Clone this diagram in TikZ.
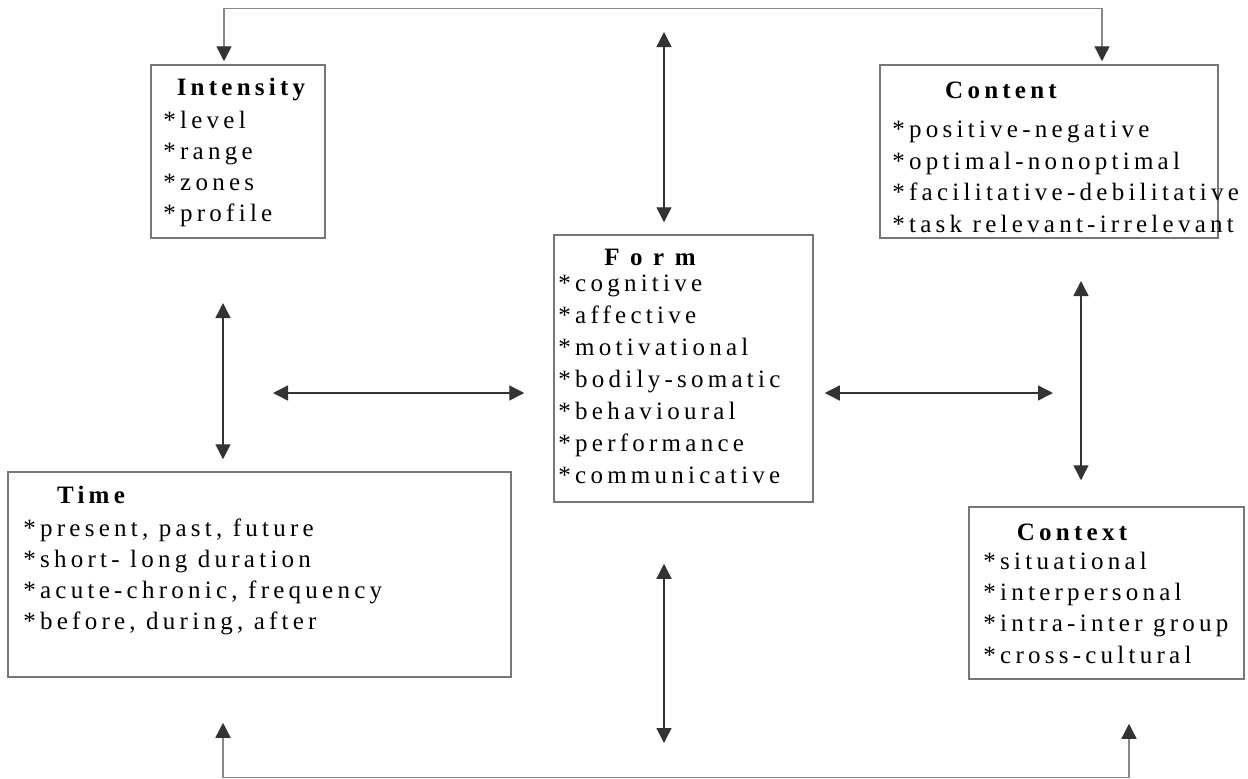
\documentclass[tikz,border=0pt]{standalone}
\usepackage{fontspec}
\setmainfont{Liberation Serif}[LetterSpace=17]
\usetikzlibrary{arrows.meta,fit}

\definecolor{boxgray}{HTML}{777777}
\definecolor{inkgray}{HTML}{333333}
\definecolor{wiregray}{HTML}{888888}

\tikzset{
  dimbox/.style={draw=boxgray, line width=0.75pt, inner sep=0pt},
  head/.style={font=\fontsize{12.5}{15}\selectfont\bfseries, inner sep=0pt},
  item/.style={anchor=base west, inner sep=0pt, font=\fontsize{12.5}{15}\selectfont},
  link/.style={draw=inkgray, line width=0.7pt},
  twoway/.style={link, {Triangle[width=7.5pt,length=7.5pt]}-{Triangle[width=7.5pt,length=7.5pt]}},
  loopwire/.style={draw=wiregray, line width=0.7pt,
    {Triangle[width=7.5pt,length=7.5pt,color=inkgray]}-{Triangle[width=7.5pt,length=7.5pt,color=inkgray]}},
}

\begin{document}
\begin{tikzpicture}[x=0.5pt, y=-0.5pt]
\useasboundingbox (0,0) rectangle (1248,778);

% the five dimensions
\node[dimbox, fit={(151,65) (325,238)}] (intensity) {};
\node[dimbox, fit={(880,65) (1218,238)}] (content) {};
\node[dimbox, fit={(554,235) (813,502)}] (form) {};
\node[dimbox, fit={(8,472) (511,677)}] (time) {};
\node[dimbox, fit={(969,507) (1244,679)}] (context) {};

\node[head] (intensityHead) at (241,90) {Intensity};
\foreach \t [count=\i] in {level,range,zones,profile}
  \node[item] (intensity-\i) at (163,97+31*\i) {*\t};

\node[head] (contentHead) at (1001,90) {Content};
\foreach \t [count=\i] in {positive-negative,optimal-nonoptimal,facilitative-debilitative,task relevant-irrelevant}
  \node[item] (content-\i) at (892,106+31.5*\i) {*\t};

\node[head] (formHead) at (650,257) {F o r m};
\foreach \t [count=\i] in {cognitive,affective,motivational,bodily-somatic,behavioural,performance,communicative}
  \node[item] (form-\i) at (558,259+32*\i) {*\t};

\node[head] (timeHead) at (91,495) {Time};
\foreach \t [count=\i] in {{present, past, future},{short- long duration},{acute-chronic, frequency},{before, during, after}}
  \node[item] (time-\i) at (23,505+31*\i) {*\t};

\node[head] (contextHead) at (1072,532) {Context};
\foreach \t [count=\i] in {situational,interpersonal,intra-inter group,cross-cultural}
  \node[item] (context-\i) at (983,538+31.3*\i) {*\t};

% free ends of the double arrows
\coordinate (formTop) at (664,32);
\coordinate (intensityLow) at (223,303);
\coordinate (leftMid) at (273,393);
\coordinate (rightMid) at (1053,393);
\coordinate (contentLow) at (1081,281);
\coordinate (formLow) at (664,743);

\draw[twoway] (formTop) -- ([xshift=-9.75pt,yshift=6pt]form.north);
\draw[twoway] (intensityLow) -- ([xshift=-18.25pt,yshift=6pt]time.north);
\draw[twoway] (leftMid) -- ([xshift=-14.5pt,yshift=-12.25pt]form.west);
\draw[twoway] ([xshift=5.5pt,yshift=-12.25pt]form.east) -- (rightMid);
\draw[twoway] (contentLow) -- ([xshift=-12.75pt,yshift=13pt]context.north);
\draw[twoway] ([xshift=-9.75pt,yshift=-30.5pt]form.south) -- (formLow);

% loops over the top and the bottom
\draw[loopwire] ([xshift=-7pt,yshift=1.5pt]intensity.north) -- ++(0,-53)
  -| ([xshift=26.5pt,yshift=1.5pt]content.north);
\draw[loopwire] ([xshift=-18.25pt,yshift=-22.5pt]time.south) -- ++(0,54.5)
  -| ([xshift=11.25pt,yshift=-22pt]context.south);
\end{tikzpicture}
\end{document}
